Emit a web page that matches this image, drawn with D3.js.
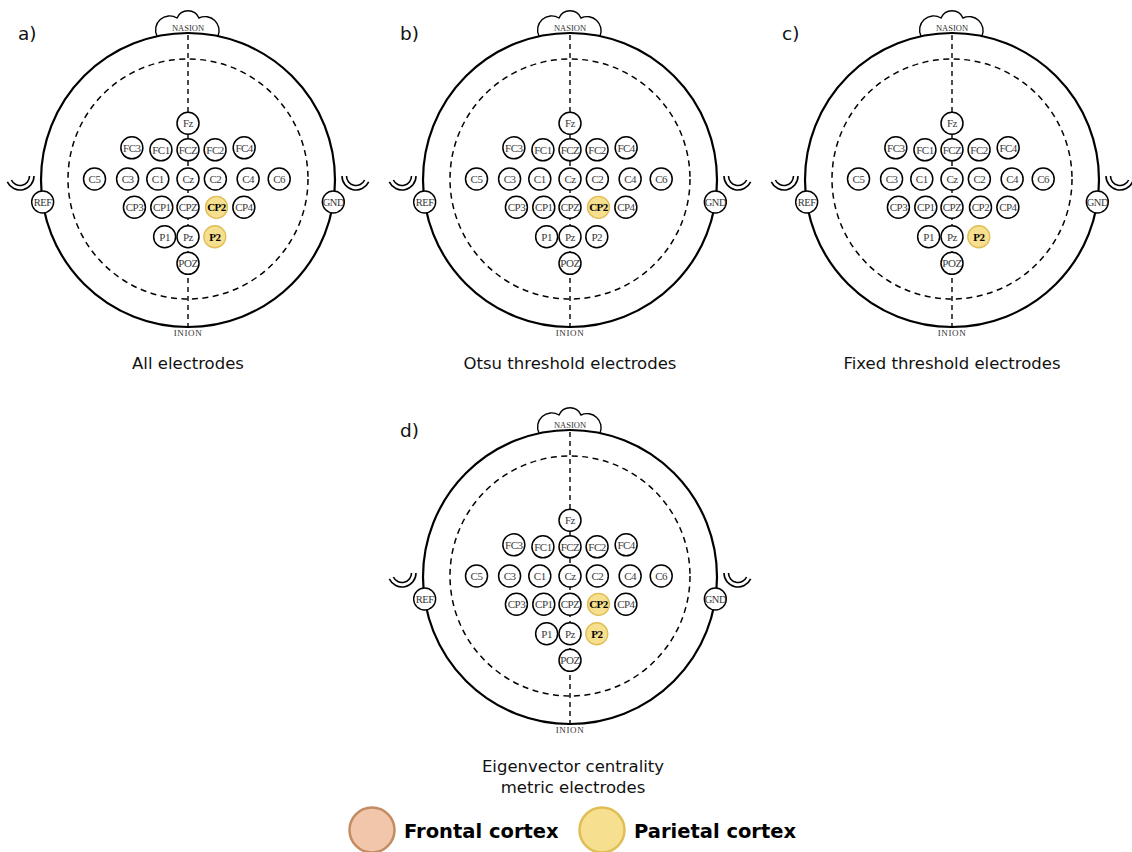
<!DOCTYPE html>
<html>
<head>
<meta charset="utf-8">
<script src="https://cdn.jsdelivr.net/npm/d3@7"></script>
<style>
  html, body { margin: 0; padding: 0; background: #fff; }
  svg { display: block; }
</style>
</head>
<body>
<svg id="chart" width="1132" height="852"></svg>
<script>
// Electrode montage: name, column and row in grid units (Cz at 0,0)
const montage = [
  ["Fz", 0, -1.97],
  ["FC3", -1.97, -1.1], ["FC1", -0.95, -1.03], ["FCZ", 0, -1.03], ["FC2", 0.95, -1.03], ["FC4", 1.97, -1.1],
  ["C5", -3.28, 0], ["C3", -2.12, 0], ["C1", -1.06, 0], ["Cz", 0, 0], ["C2", 0.96, 0], ["C4", 2.11, 0], ["C6", 3.2, 0],
  ["CP3", -1.88, 1], ["CP1", -0.92, 1], ["CPZ", 0, 1], ["CP2", 1.0, 1], ["CP4", 1.96, 1],
  ["P1", -0.82, 2.04], ["Pz", 0, 2.04], ["P2", 0.94, 2.04],
  ["POZ", 0, 2.98]
];

// Panels and the electrodes each selection method keeps
const panelLetters = ["a)", "b)", "c)", "d)"];
const panelTitles = [
  ["All electrodes"],
  ["Otsu threshold electrodes"],
  ["Fixed threshold electrodes"],
  ["Eigenvector centrality", "metric electrodes"]
];
const selectedParietal = [
  ["CP2", "P2"],
  ["CP2"],
  ["P2"],
  ["CP2", "P2"]
];
const selectedFrontal = [[], [], [], []];

const legendLabels = ["Frontal cortex", "Parietal cortex"];

const colors = {
  frontalFill: "#f2c6ab", frontalStroke: "#c38b61",
  parietalFill: "#f6df8e", parietalStroke: "#e0bd55"
};

const svg = d3.select("#chart");

// Head centres for the four panels
const panelCentres = [
  { cx: 188, cy: 180 },
  { cx: 570, cy: 180 },
  { cx: 952, cy: 180 },
  { cx: 570, cy: 577 }
];

const HEAD_R = 147, INNER_R = 120, ELEC_R = 11, UNIT = 28.5;
const SANS = "DejaVu Sans, Verdana, sans-serif";
const SERIF = "Liberation Serif, serif";

panelCentres.forEach((p, i) => {
  const g = svg.append("g");
  const { cx, cy } = p;
  const x = d3.scaleLinear().domain([0, 1]).range([cx, cx + UNIT]);
  const y = d3.scaleLinear().domain([0, 1]).range([cy - 1, cy - 1 + 28.3]);

  // Nose bump (nasion)
  g.append("path")
    .attr("d", `M${cx - 31},${cy - 144} A14,14 0 0 1 ${cx - 11},${cy - 162} A12,12 0 0 1 ${cx + 11},${cy - 162} A14,14 0 0 1 ${cx + 30},${cy - 144}`)
    .attr("fill", "#fff").attr("stroke", "#000").attr("stroke-width", 1.4);

  // Ears
  const earY = cy - 4;
  [[cx + 168, 0], [cx - 168, 1]].forEach(([ex, left]) => {
    [14, 9.5].forEach(r => {
      let d;
      if (!left) {
        const a1 = Math.PI, a2 = 25 * Math.PI / 180;
        d = `M${ex + r * Math.cos(a1)},${earY + r * Math.sin(a1)} A${r},${r} 0 0 0 ${ex + r * Math.cos(a2)},${earY + r * Math.sin(a2)}`;
      } else {
        const a1 = 0, a2 = 155 * Math.PI / 180;
        d = `M${ex + r * Math.cos(a1)},${earY + r * Math.sin(a1)} A${r},${r} 0 0 1 ${ex + r * Math.cos(a2)},${earY + r * Math.sin(a2)}`;
      }
      g.append("path").attr("d", d).attr("fill", "none").attr("stroke", "#000").attr("stroke-width", 1.6);
    });
  });

  // Head outline
  g.append("circle").attr("cx", cx).attr("cy", cy).attr("r", HEAD_R)
    .attr("fill", "none").attr("stroke", "#000").attr("stroke-width", 2.2);

  // Inner dashed circle
  g.append("circle").attr("cx", cx).attr("cy", cy - 1).attr("r", INNER_R)
    .attr("fill", "none").attr("stroke", "#000").attr("stroke-width", 1.5)
    .attr("stroke-dasharray", "6,4.5");

  // Midline nasion-inion
  g.append("line").attr("x1", cx).attr("x2", cx)
    .attr("y1", cy - HEAD_R + 2).attr("y2", cy + HEAD_R)
    .attr("stroke", "#000").attr("stroke-width", 1.4).attr("stroke-dasharray", "5,4");

  g.append("text").attr("x", cx).attr("y", cy - 149)
    .attr("text-anchor", "middle").attr("font-family", SERIF)
    .attr("font-size", 8.5).attr("fill", "#333").text("NASION");
  g.append("text").attr("x", cx).attr("y", cy + 156)
    .attr("text-anchor", "middle").attr("font-family", SERIF)
    .attr("font-size", 9).attr("fill", "#333").attr("letter-spacing", 0.6).text("INION");

  // Reference and ground electrodes on the outline
  const sideDy = 22, sideDx = Math.sqrt(HEAD_R * HEAD_R - sideDy * sideDy);
  [["REF", cx - sideDx], ["GND", cx + sideDx]].forEach(([name, ex]) => {
    g.append("circle").attr("cx", ex).attr("cy", cy + sideDy).attr("r", ELEC_R)
      .attr("fill", "#fff").attr("stroke", "#000").attr("stroke-width", 1.4);
    g.append("text").attr("x", ex).attr("y", cy + sideDy + 3.8)
      .attr("text-anchor", "middle").attr("font-family", SERIF)
      .attr("font-size", 10.5).attr("fill", "#333").attr("letter-spacing", -0.5).text(name);
  });

  // Scalp electrodes
  const par = new Set(selectedParietal[i]);
  const fro = new Set(selectedFrontal[i]);
  const eg = g.selectAll("g.el").data(montage).join("g").attr("class", "el")
    .attr("transform", d => `translate(${x(d[1])},${y(d[2])})`);
  eg.append("circle").attr("r", ELEC_R)
    .attr("fill", d => par.has(d[0]) ? colors.parietalFill : fro.has(d[0]) ? colors.frontalFill : "#fff")
    .attr("stroke", d => par.has(d[0]) ? colors.parietalStroke : fro.has(d[0]) ? colors.frontalStroke : "#000")
    .attr("stroke-width", d => (par.has(d[0]) || fro.has(d[0])) ? 1.3 : 1.5);
  eg.append("text").attr("y", 3.8).attr("text-anchor", "middle")
    .attr("font-family", SERIF)
    .attr("font-size", 11)
    .attr("letter-spacing", -0.5)
    .attr("font-weight", d => (par.has(d[0]) || fro.has(d[0])) ? "bold" : "normal")
    .attr("fill", d => (par.has(d[0]) || fro.has(d[0])) ? "#000" : "#3a3a3a")
    .text(d => d[0]);

  // Panel letter
  g.append("text").attr("x", cx - 170).attr("y", cy - 140)
    .attr("font-family", SANS).attr("font-size", 18.5)
    .attr("fill", "#111").text(panelLetters[i]);

  // Panel title
  const multi = panelTitles[i].length > 1;
  panelTitles[i].forEach((line, k) => {
    g.append("text").attr("x", cx + (multi ? 3 : 0)).attr("y", cy + (multi ? 195 : 189) + k * 20.5)
      .attr("text-anchor", "middle").attr("font-family", SANS)
      .attr("font-size", 16.5).attr("fill", "#111").text(line);
  });
});

// Legend
const legend = svg.append("g");
const legendX = d3.scaleOrdinal().domain(legendLabels).range([372, 602]);
const legendFill = d3.scaleOrdinal().domain(legendLabels).range([colors.frontalFill, colors.parietalFill]);
const legendStroke = d3.scaleOrdinal().domain(legendLabels).range([colors.frontalStroke, colors.parietalStroke]);
legendLabels.forEach(l => {
  legend.append("circle").attr("cx", legendX(l)).attr("cy", 830).attr("r", 22.5)
    .attr("fill", legendFill(l)).attr("stroke", legendStroke(l)).attr("stroke-width", 2.5);
  legend.append("text").attr("x", legendX(l) + 32).attr("y", 838)
    .attr("font-family", SANS).attr("font-weight", "bold")
    .attr("font-size", 19.5).attr("fill", "#000").text(l);
});
</script>
</body>
</html>
